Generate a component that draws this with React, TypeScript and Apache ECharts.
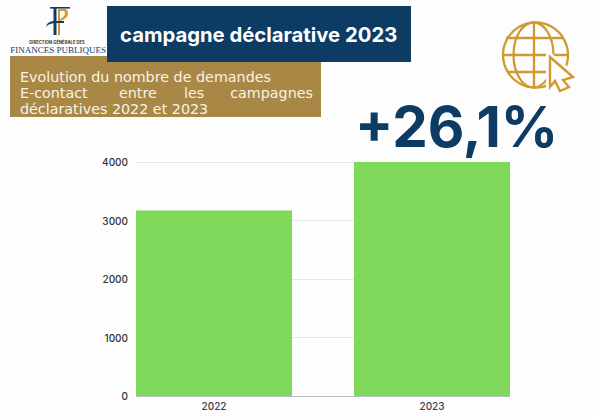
import React, { useEffect, useRef } from "react";
import * as echarts from "echarts";

const years = ["2022", "2023"];
const demandes = [3172, 4000];
const yTicks = [0, 1000, 2000, 3000, 4000];
const headerTitle = "campagne déclarative 2023";
const subtitleLines = ["Evolution du nombre de demandes", "E-contact", "entre", "les", "campagnes", "déclaratives 2022 et 2023"];
const growth = "+26,1%";

const NAVY = "#0c3c64";
const GOLD = "#a98845";
const ICON = "#d09a30";
const BG = "#fdfdfd";
const FONT = "Inter, 'Noto Sans', sans-serif";
const SUBFONT = "'DejaVu Sans', sans-serif";

echarts.graphic.registerShape("cursorArrow", echarts.graphic.extendPath("M0 0 L23 20 L13 23 L19 30 L10 34 L5 24 L0 30 Z", {}));
echarts.graphic.registerShape("logoSwoosh", echarts.graphic.extendPath("M0 19 C1 14 5 13 10 13 L18 13 L18 15 L10 15 C6 15 2 16 0 19 Z", {}));
echarts.graphic.registerShape("logoGold", echarts.graphic.extendPath("M12 3 L20 3 C24 7 22 13 14 15 L14 13 C19 11 20 7 18 5 L14 5 L14 29 L12 29 Z", {}));

export default function App() {
  const ref = useRef<HTMLDivElement>(null);
  useEffect(() => {
    document.body.style.margin = "0";
    const chart = echarts.init(ref.current!, undefined, { renderer: "svg" });
    const subText = (t: string, x: number, y: number, align = "left") => ({
      type: "text", x, y, z: 10,
      style: { text: t, fill: "#f7f3ea", font: `400 14.3px ${SUBFONT}`, textAlign: align, textVerticalAlign: "middle" },
    });
    const globe = [
      { type: "circle", shape: { cx: 535.5, cy: 55, r: 32.5 } },
      { type: "ellipse", shape: { cx: 533.5, cy: 55, rx: 20, ry: 32.5 } },
      { type: "line", shape: { x1: 534, y1: 23, x2: 534, y2: 87 } },
      { type: "line", shape: { x1: 506, y1: 38, x2: 564, y2: 38 } },
      { type: "line", shape: { x1: 503, y1: 55, x2: 567, y2: 55 } },
      { type: "line", shape: { x1: 508, y1: 72, x2: 560, y2: 72 } },
    ].map((e) => ({ ...e, z: 10, style: { fill: "none", stroke: ICON, lineWidth: 2.3 } }));
    chart.setOption({
      animation: false,
      backgroundColor: BG,
      textStyle: { fontFamily: FONT },
      grid: [
        { left: 105, width: 436, top: 162, height: 234 },
        { left: 136, width: 374, top: 162, height: 234 },
      ],
      xAxis: [
        {
          type: "category", gridIndex: 0, data: years,
          axisLine: { show: false }, axisTick: { show: false }, splitLine: { show: false },
          axisLabel: { color: "#3a4048", fontSize: 10, fontWeight: 500, margin: 5 },
        },
        {
          type: "category", gridIndex: 1, data: years,
          axisLine: { show: true, lineStyle: { color: "#b4bcc8", width: 1 } }, axisTick: { show: false },
          axisLabel: { show: false }, splitLine: { show: false },
        },
      ],
      yAxis: [
        { type: "value", gridIndex: 0, min: 0, max: 4000, show: false, splitLine: { show: false } },
        {
          type: "value", gridIndex: 1, min: 0, max: 4000, interval: 1000,
          axisLine: { show: false }, axisTick: { show: false },
          axisLabel: { color: "#2f3640", fontSize: 10, fontWeight: 500, margin: 8,
            formatter: (v: number) => (yTicks.includes(v) ? String(v) : "") },
          splitLine: { show: true, lineStyle: { color: "#e4e6ea", width: 1 } },
        },
      ],
      series: [
        {
          type: "bar", xAxisIndex: 0, yAxisIndex: 0, data: demandes, barWidth: 156,
          itemStyle: { color: "#7fda5c" }, z: 3,
        },
      ],
      graphic: [
        { type: "rect", z: 8, shape: { x: 10, y: 56, width: 311, height: 61 }, style: { fill: GOLD } },
        { type: "rect", z: 9, shape: { x: 107, y: 6, width: 304, height: 56 }, style: { fill: NAVY } },
        { type: "text", z: 10, x: 120, y: 34, style: { text: headerTitle, fill: "#ffffff", font: `700 20.3px ${FONT}`, textVerticalAlign: "middle" } },
        subText(subtitleLines[0], 20, 77),
        subText(subtitleLines[1], 20, 93),
        subText(subtitleLines[2], 119, 93),
        subText(subtitleLines[3], 184, 93),
        subText(subtitleLines[4], 313, 93, "right"),
        subText(subtitleLines[5], 20, 108.5),
        { type: "text", z: 10, x: 355, y: 126, style: { text: growth, fill: NAVY, font: `700 56.5px ${FONT}`, textVerticalAlign: "middle" } },
        ...globe,
        { type: "cursorArrow", z: 11, x: 550, y: 57, style: { fill: BG, stroke: BG, lineWidth: 8 } },
        { type: "cursorArrow", z: 12, x: 550, y: 57, style: { fill: BG, stroke: ICON, lineWidth: 2.4 } },
        { type: "rect", z: 10, shape: { x: 50, y: 7, width: 20, height: 1.6 }, style: { fill: NAVY } },
        { type: "rect", z: 10, shape: { x: 53.5, y: 7, width: 3, height: 28 }, style: { fill: NAVY } },
        { type: "logoSwoosh", z: 10, x: 46, y: 8, style: { fill: NAVY } },
        { type: "logoGold", z: 9, x: 46, y: 6, style: { fill: ICON } },
        { type: "text", z: 10, x: 57, y: 42, style: { text: "DIRECTION GÉNÉRALE DES", fill: "#333", font: `700 4.2px ${FONT}`, textAlign: "center", textVerticalAlign: "middle" } },
        { type: "text", z: 10, x: 58, y: 49.5, style: { text: "FINANCES PUBLIQUES", fill: NAVY, font: "9px 'Liberation Serif', serif", textAlign: "center", textVerticalAlign: "middle" } },
      ],
    });
    return () => chart.dispose();
  }, []);
  return <div ref={ref} style={{ width: 593, height: 418 }} />;
}
